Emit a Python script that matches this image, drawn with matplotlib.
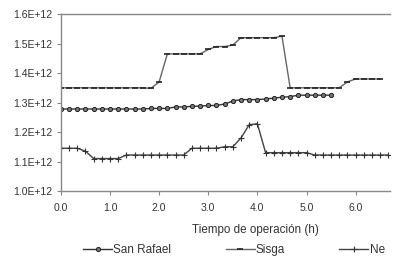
import numpy as np
from matplotlib import pyplot as plt

plt.rcParams['font.family'] = ['Liberation Sans', 'DejaVu Sans']

# valores en E+12, un punto cada 10 min
san_rafael = [1.278, 1.278, 1.278, 1.278, 1.278, 1.278, 1.278, 1.278, 1.278, 1.278,
              1.278, 1.28, 1.28, 1.28, 1.285, 1.285, 1.287, 1.288, 1.29, 1.29,
              1.295, 1.305, 1.31, 1.31, 1.31, 1.312, 1.315, 1.318, 1.32, 1.325,
              1.325, 1.325, 1.325, 1.325]
sisga = [1.35, 1.35, 1.35, 1.35, 1.35, 1.35, 1.35, 1.35, 1.35, 1.35,
         1.35, 1.348, 1.37, 1.465, 1.465, 1.465, 1.465, 1.465, 1.48, 1.49,
         1.49, 1.495, 1.52, 1.52, 1.52, 1.52, 1.52, 1.525, 1.35, 1.35,
         1.35, 1.35, 1.35, 1.35, 1.35, 1.37, 1.38, 1.38, 1.38, 1.38]
ne = [1.145, 1.145, 1.145, 1.135, 1.11, 1.11, 1.11, 1.11, 1.122, 1.122,
      1.122, 1.122, 1.122, 1.122, 1.122, 1.122, 1.145, 1.145, 1.145, 1.145,
      1.15, 1.15, 1.18, 1.225, 1.228, 1.13, 1.13, 1.13, 1.13, 1.13,
      1.13, 1.122, 1.122, 1.122, 1.122, 1.122, 1.122, 1.122, 1.122, 1.122,
      1.122]
paso = 1/6  # horas

y_ticks = [1.0, 1.1, 1.2, 1.3, 1.4, 1.5, 1.6]
x_ticks = [0, 1, 2, 3, 4, 5, 6]

fig = plt.figure(figsize=(3.98, 2.66), dpi=100)
ax = fig.add_axes([0.153, 0.282, 0.827, 0.665])

t_sr = np.arange(len(san_rafael)) * paso
t_si = np.arange(len(sisga)) * paso
t_ne = np.arange(len(ne)) * paso

ax.plot(t_sr, san_rafael, color="#333333", lw=1, marker="o", ms=3,
        mfc="#777777", mec="#222222", mew=0.7, label="San Rafael")
ax.plot(t_si, sisga, color="#666666", lw=1, marker="_", ms=4,
        mec="#222222", mew=1.2, label="Sisga")
ax.plot(t_ne, ne, color="#444444", lw=1, marker="+", ms=5,
        mec="#333333", mew=0.8, label="Ne")

ax.set_xlim(0, 6.7)
ax.set_ylim(1.0, 1.6)
ax.set_yticks(y_ticks)
ax.set_yticklabels(["%.1fE+12" % v for v in y_ticks])
ax.set_xticks(x_ticks)
ax.set_xticklabels(["%.1f" % v for v in x_ticks])

for s in ["left", "bottom", "top"]:
    ax.spines[s].set_color("#888888")
    ax.spines[s].set_linewidth(1)
ax.spines["right"].set_visible(False)
ax.tick_params(axis="both", direction="out", length=3, width=0.8,
               color="#888888", labelsize=7.5, labelcolor="#333333")
ax.tick_params(axis="x", pad=6)
ax.tick_params(axis="y", pad=3)

fig.text(0.641, 0.135, "Tiempo de operación (h)", ha="center", va="center",
         fontsize=8.4, color="#333333")

fig.legend(loc="center", bbox_to_anchor=(0.588, 0.06), ncol=3, frameon=False,
           fontsize=8.5, handlelength=2.45, handletextpad=0.1, columnspacing=4.6,
           labelcolor="#333333")

plt.savefig("out.png", dpi=100)
